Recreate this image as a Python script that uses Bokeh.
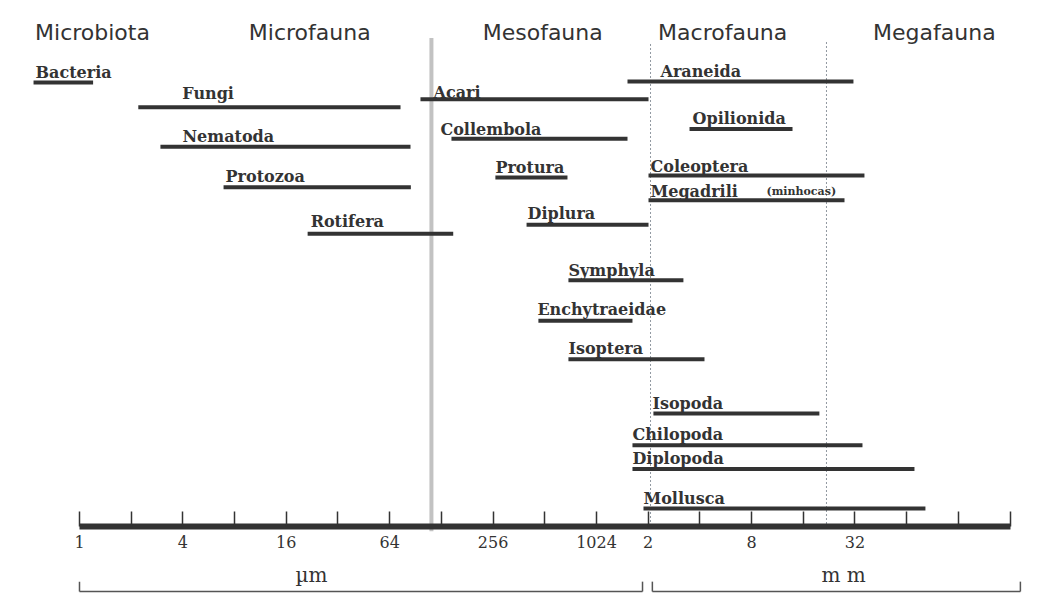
from bokeh.plotting import figure
from bokeh.models import Range1d, LogAxis, FixedTicker, ColumnDataSource
from bokeh.core.properties import value
from bokeh.embed import file_html
from bokeh.resources import INLINE

# ---------------- data ----------------
groups = ["Microbiota", "Microfauna", "Mesofauna", "Macrofauna", "Megafauna"]
group_center_um = [1.19, 21.9, 498, 5560, 95000]

taxa = ["Bacteria", "Fungi", "Nematoda", "Protozoa", "Rotifera",
        "Acari", "Collembola", "Protura", "Diplura",
        "Symphyla", "Enchytraeidae", "Isoptera",
        "Araneida", "Opilionida", "Coleoptera", "Megadrili",
        "Isopoda", "Chilopoda", "Diplopoda", "Mollusca"]
size_min_um = [0.54, 2.2, 2.96, 6.9, 21.3,
               96.7, 146.5, 264, 401,
               703, 470, 703,
               1552, 3565, 2057, 2057,
               2197, 1659, 1659, 1923]
size_max_um = [1.2, 74, 84.6, 85, 150,
               2057, 1552, 694, 2057,
               3284, 1659, 4357,
               32100, 14180, 37200, 28470,
               20330, 36230, 72750, 84260]
row_level = [83, 108, 148, 189, 236,
             100, 140, 179, 227,
             283, 324, 363,
             82, 130, 177, 202,
             418, 450, 474, 514]

tick_values_um = [2 ** k for k in range(19)]
tick_labels = {1: "1", 4: "4", 16: "16", 64: "64", 256: "256", 1024: "1024",
               2048: "2", 8192: "8", 32768: "32"}

class_limits_um = [112, 2113, 22360]
unit_names = ["\u00b5m", "m m"]
unit_ranges_um = [(1, 1898), (2166, 301000)]

# ---------------- layout / style (not data) ----------------
label_dx = [2, 44, 22, 2, 3, 13, -11, 0, 1, 0, -1, 0, 33, 3, 2, 2, -1, 0, 0, 0]
label_dy = [-10, -14, -10, -11, -12, -7, -9, -10, -11, -10, -11, -11, -10, -10, -9, -9, -10, -11, -10, -10]
INK = "#333333"

p = figure(width=1036, height=593,
           x_range=Range1d(2 ** -1.528, 2 ** 18.511), y_range=Range1d(600, 0),
           x_axis_type="log", x_axis_location=None, y_axis_type=None,
           output_backend="svg", toolbar_location=None, min_border=0,
           outline_line_color=None, background_fill_color="white",
           border_fill_color="white")
p.grid.visible = False

# class boundaries
p.segment(x0=[class_limits_um[0]], y0=[38], x1=[class_limits_um[0]], y1=[537],
          line_color="#c2c2c2", line_width=4)
p.segment(x0=class_limits_um[1:], y0=[44, 42], x1=class_limits_um[1:], y1=[532, 530],
          line_color="#9098a0", line_width=1, line_dash="2 2")

# header
p.text(x=group_center_um, y=[32] * 5, text=groups,
       text_font=value("DejaVu Sans"), text_font_size="22px",
       text_color="#333333", text_align="center", text_baseline="middle")

# bars
src = ColumnDataSource(dict(lo=size_min_um, hi=size_max_um, y=row_level,
                            t=taxa, dx=label_dx, dy=label_dy))
p.segment(x0="lo", y0="y", x1="hi", y1="y", source=src,
          line_color=INK, line_width=4)
p.text(x="lo", y="y", text="t", x_offset="dx", y_offset="dy", source=src,
       text_font=value("DejaVu Serif"), text_font_style="bold",
       text_font_size="16px", text_color=INK, text_align="left",
       text_baseline="alphabetic")
# small annotation after Megadrili
p.text(x=[size_min_um[15]], y=[row_level[15]], text=["(minhocas)"],
       x_offset=[118], y_offset=[-9],
       text_font=value("DejaVu Serif"), text_font_style="bold",
       text_font_size="11px", text_color=INK, text_align="left",
       text_baseline="alphabetic")

# size axis
ax = LogAxis(ticker=FixedTicker(ticks=tick_values_um), fixed_location=532,
             bounds=(1, 2 ** 18),
             major_label_overrides={t: tick_labels.get(t, "") for t in tick_values_um},
             axis_line_width=6, axis_line_color=INK,
             major_tick_in=15, major_tick_out=0,
             major_tick_line_width=1.5, major_tick_line_color=INK,
             minor_tick_line_color=None,
             major_label_text_font="DejaVu Serif", major_label_text_font_size="16px",
             major_label_text_color=INK, major_label_standoff=10)
p.add_layout(ax, "below")

# unit brackets
for (lo, hi), name in zip(unit_ranges_um, unit_names):
    p.segment(x0=[lo], y0=[598], x1=[hi], y1=[598], line_color="#555555", line_width=1.5)
    p.segment(x0=[lo, hi], y0=[588, 588], x1=[lo, hi], y1=[598, 598],
              line_color="#555555", line_width=1.5)
p.text(x=[22.4, 28100], y=[581, 581], text=unit_names,
       text_font=value("DejaVu Serif"), text_font_size="20px",
       text_color=INK, text_align="center", text_baseline="middle")

open("out.html", "w").write(file_html(p, INLINE))
